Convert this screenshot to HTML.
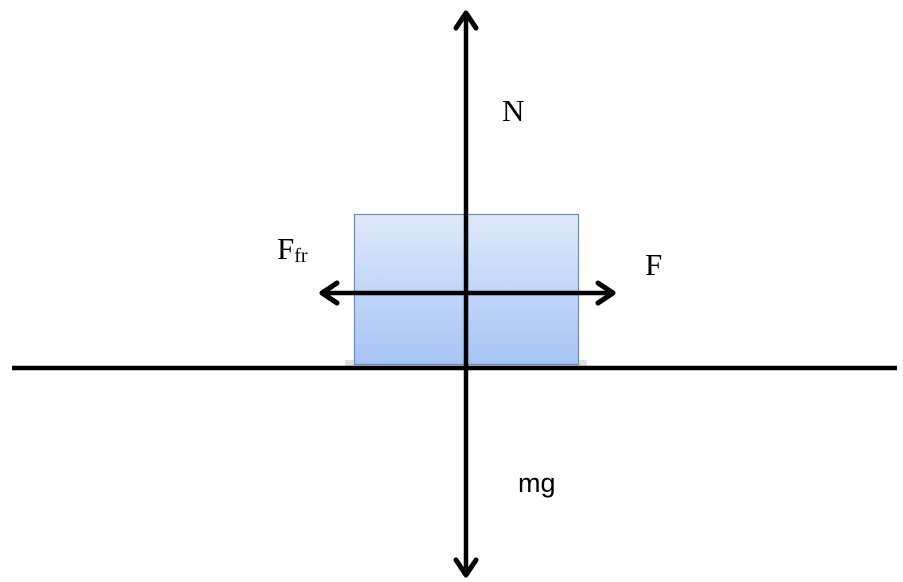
<!DOCTYPE html>
<html><head><meta charset="utf-8"><style>
html,body{margin:0;padding:0;background:#fff;}
svg{display:block;}
</style></head><body>
<svg width="903" height="582" viewBox="0 0 903 582" xmlns="http://www.w3.org/2000/svg">
<defs>
<linearGradient id="g" x1="0" y1="0" x2="0" y2="1">
<stop offset="0" stop-color="#dde8fb"/>
<stop offset="1" stop-color="#a7c4f5"/>
</linearGradient>
</defs>
<rect x="345" y="360" width="242" height="10" fill="#ccc" opacity="0.6"/>
<rect x="354.5" y="214.5" width="224" height="150" fill="url(#g)" stroke="#6b8bbf" stroke-width="1.2"/>
<line x1="12" y1="368" x2="897" y2="368" stroke="#000" stroke-width="4.5"/>
<line x1="466" y1="14" x2="466" y2="574" stroke="#000" stroke-width="4.5"/>
<polyline points="456,28 466,13 476,28" fill="none" stroke="#000" stroke-width="5" stroke-linecap="round" stroke-linejoin="round"/>
<polyline points="456,560 466,575 476,560" fill="none" stroke="#000" stroke-width="5" stroke-linecap="round" stroke-linejoin="round"/>
<line x1="323" y1="293" x2="612" y2="293" stroke="#000" stroke-width="4.5"/>
<polyline points="337,283 322,293 337,303" fill="none" stroke="#000" stroke-width="5" stroke-linecap="round" stroke-linejoin="round"/>
<polyline points="598,283 613,293 598,303" fill="none" stroke="#000" stroke-width="5" stroke-linecap="round" stroke-linejoin="round"/>
<text x="502" y="121" font-family="Liberation Serif, serif" font-size="31">N</text>
<text x="277" y="259" font-family="Liberation Serif, serif" font-size="31">F<tspan font-size="20" dy="3">fr</tspan></text>
<text x="645" y="275" font-family="Liberation Serif, serif" font-size="31">F</text>
<text x="518" y="492" font-family="Liberation Sans, sans-serif" font-size="27">mg</text>
</svg>
</body></html>
